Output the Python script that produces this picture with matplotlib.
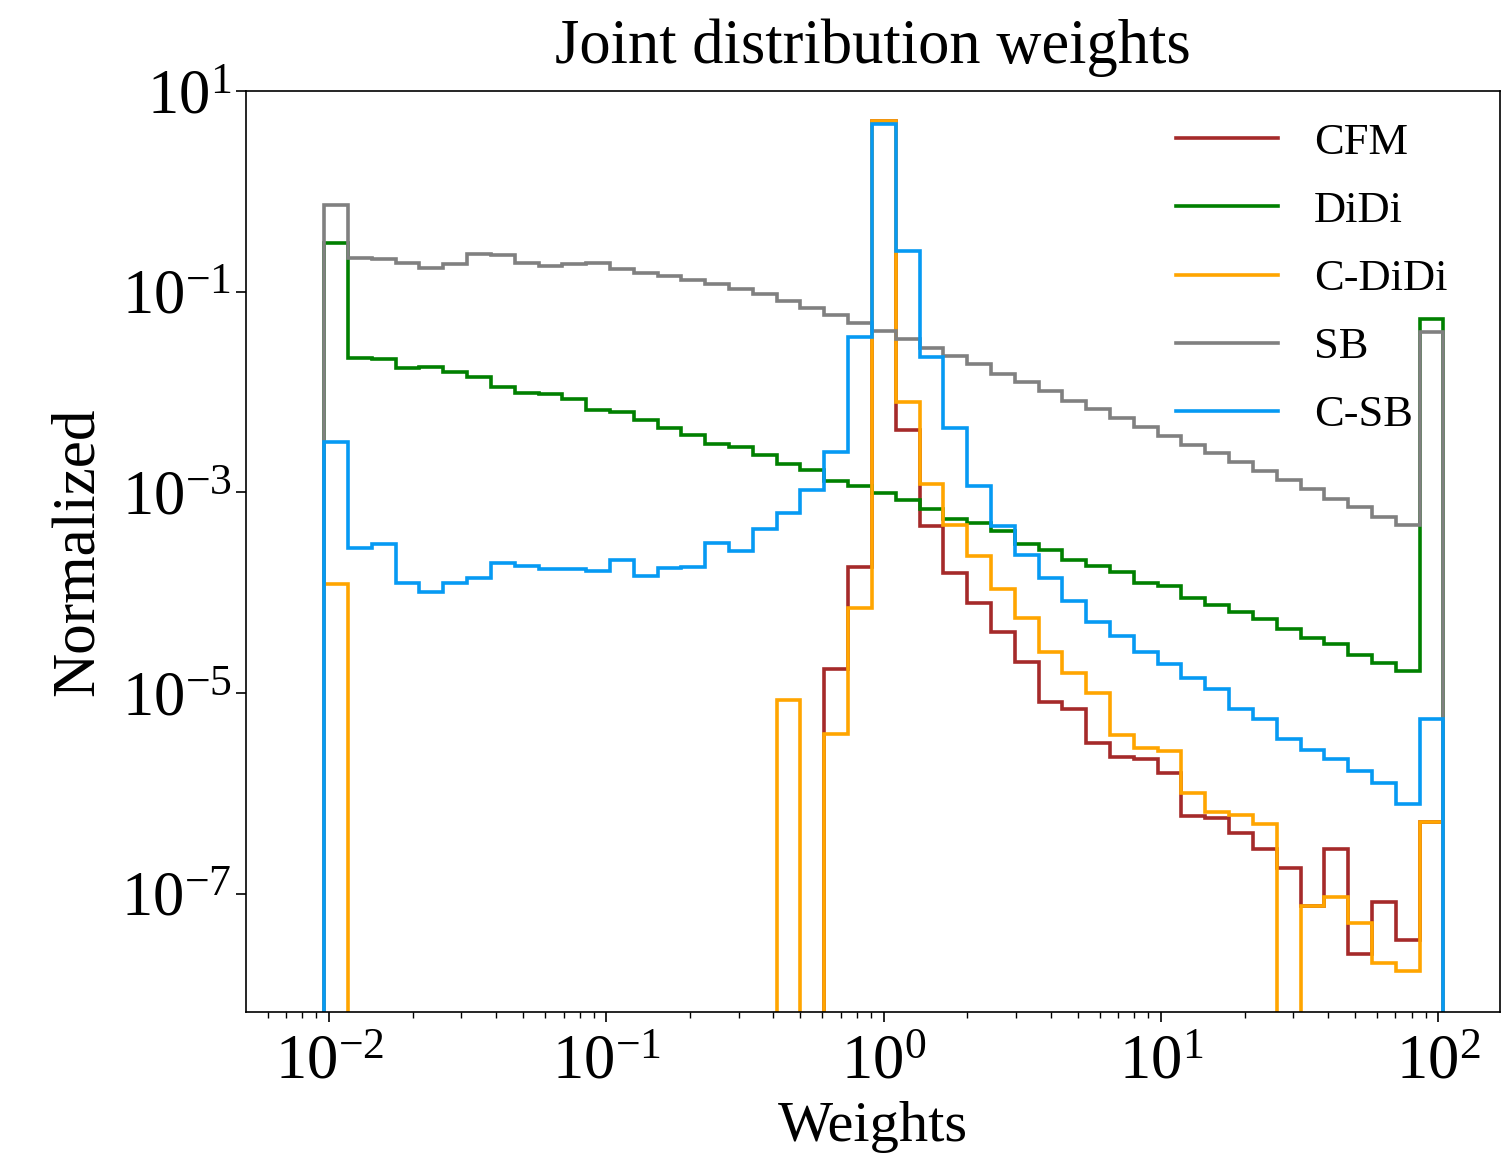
import numpy as np
import matplotlib
matplotlib.use("Agg")
import matplotlib.pyplot as plt
from matplotlib import rcParams

# Serif text everywhere, including the 10^x tick labels
rcParams['font.family'] = ['Liberation Serif', 'DejaVu Serif']
rcParams['mathtext.fontset'] = 'custom'
rcParams['mathtext.rm'] = 'Liberation Serif'
rcParams['mathtext.it'] = 'Liberation Serif:italic'
rcParams['axes.unicode_minus'] = True

# 47 log-spaced bins, centred on a weight of 1
bin_edges = np.logspace(-2.018, 2.018, 48)

cfm = [0, 0, 0, 0, 0, 0, 0, 0, 0, 0,
       0, 0, 0, 0, 0, 0, 0, 0, 0, 0,
       0, 1.72e-5, 1.81e-4, 5.04, 4.18e-3, 4.61e-4, 1.56e-4, 7.9e-5, 4.07e-5, 2.05e-5,
       8.2e-6, 7.0e-6, 3.14e-6, 2.31e-6, 2.19e-6, 1.6e-6, 5.93e-7, 5.7e-7, 4.04e-7, 2.8e-7,
       1.82e-7, 7.55e-8, 2.76e-7, 2.53e-8, 8.28e-8, 3.44e-8, 5.13e-7]

didi = [0.303, 0.022, 0.0212, 0.0172, 0.0177, 0.0159, 0.0140, 0.0113, 0.0097, 0.00955,
        0.00845, 0.00662, 0.00632, 0.00522, 0.00435, 0.0037, 0.00301, 0.00285, 0.00236, 0.0019,
        0.00167, 0.0013, 0.00116, 9.77e-4, 8.45e-4, 6.86e-4, 5.46e-4, 4.9e-4, 4.1e-4, 3.08e-4,
        2.69e-4, 2.1e-4, 1.85e-4, 1.61e-4, 1.26e-4, 1.16e-4, 8.77e-5, 7.52e-5, 6.35e-5, 5.42e-5,
        4.34e-5, 3.5e-5, 3.05e-5, 2.39e-5, 2.0e-5, 1.65e-5, 0.0531]

c_didi = [1.21e-4, 0, 0, 0, 0, 0, 0, 0, 0, 0,
          0, 0, 0, 0, 0, 0, 0, 0, 0, 8.5e-6,
          0, 3.9e-6, 7.08e-5, 5.04, 0.0080, 0.0012, 4.72e-4, 2.32e-4, 1.1e-4, 5.62e-5,
          2.58e-5, 1.6e-5, 9.9e-6, 3.8e-6, 2.8e-6, 2.65e-6, 9.97e-7, 6.55e-7, 6.07e-7, 5.0e-7,
          0, 7.55e-8, 9.17e-8, 5.05e-8, 2.06e-8, 1.7e-8, 5.13e-7]

sb = [0.732, 0.215, 0.21, 0.194, 0.171, 0.1875, 0.238, 0.231, 0.192, 0.179,
      0.1875, 0.192, 0.17, 0.152, 0.1436, 0.130, 0.119, 0.106, 0.094, 0.0807,
      0.0687, 0.0582, 0.0491, 0.0408, 0.0337, 0.0273, 0.0229, 0.0189, 0.0153, 0.0125,
      0.0102, 0.00818, 0.00671, 0.00547, 0.00451, 0.00367, 0.00296, 0.00245, 0.00199, 0.00163,
      0.00133, 0.00107, 8.63e-4, 7.08e-4, 5.71e-4, 4.72e-4, 0.0399]

c_sb = [0.0032, 2.77e-4, 3.03e-4, 1.24e-4, 1.02e-4, 1.26e-4, 1.39e-4, 1.96e-4, 1.85e-4, 1.72e-4,
        1.72e-4, 1.65e-4, 2.11e-4, 1.46e-4, 1.77e-4, 1.81e-4, 3.1e-4, 2.62e-4, 4.28e-4, 6.27e-4,
        1.054e-3, 2.54e-3, 0.0351, 4.67, 0.2546, 0.0222, 0.00435, 1.156e-3, 4.61e-4, 2.37e-4,
        1.39e-4, 8.3e-5, 5.13e-5, 3.69e-5, 2.58e-5, 1.94e-5, 1.4e-5, 1.09e-5, 6.86e-6, 5.45e-6,
        3.47e-6, 2.69e-6, 2.18e-6, 1.68e-6, 1.26e-6, 7.8e-7, 5.5e-6]

series = [
    ("CFM", cfm, "brown"),
    ("DiDi", didi, "green"),
    ("C-DiDi", c_didi, "orange"),
    ("SB", sb, "gray"),
    ("C-SB", c_sb, "#069AF3"),
]

fig = plt.figure(figsize=(15.11, 11.54), dpi=100)
ax = fig.add_axes([0.1628, 0.1230, 0.8299, 0.7981])

for name, values, color in series:
    ax.stairs(values, bin_edges, color=color, linewidth=2.6, label=name)

ax.set_xscale("log")
ax.set_yscale("log")
ax.set_xlim(10 ** -2.30, 10 ** 2.222)
ax.set_ylim(10 ** -8.18, 10 ** 1)

ax.set_title("Joint distribution weights", fontsize=45, pad=20)
ax.set_xlabel("Weights", fontsize=42, labelpad=6)
ax.set_ylabel("Normalized", fontsize=44, labelpad=11)

ax.tick_params(axis="both", which="major", labelsize=45, length=7, width=1.2)
ax.tick_params(axis="x", which="major", pad=9)
ax.tick_params(axis="both", which="minor", length=4, width=1.0)
for spine in ax.spines.values():
    spine.set_linewidth(1.2)

ax.legend(loc="upper right", frameon=False, fontsize=32, handlelength=2.3,
          handletextpad=0.8, labelspacing=0.63, bbox_to_anchor=(0.99, 1.009))

fig.savefig("out.png", dpi=100)
